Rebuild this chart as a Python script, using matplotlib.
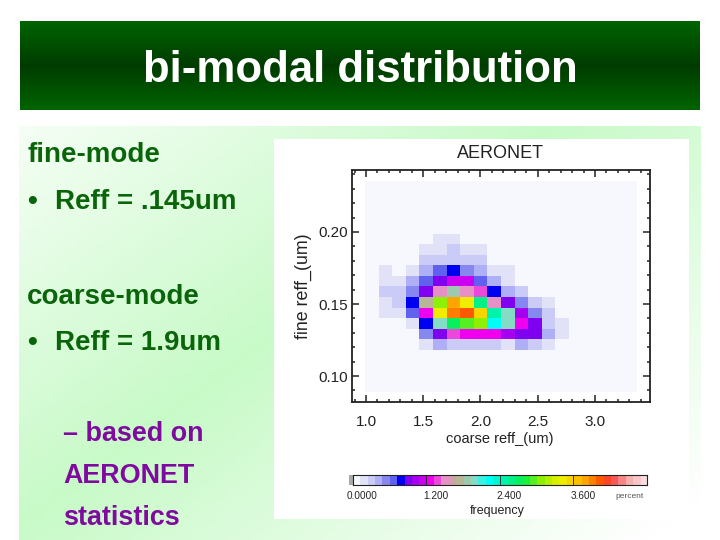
import numpy as np
import matplotlib
matplotlib.use("Agg")
import matplotlib.pyplot as plt
from matplotlib.colors import ListedColormap, LinearSegmentedColormap, BoundaryNorm
from matplotlib.patches import Rectangle
from matplotlib.transforms import ScaledTranslation

plt.rcParams['font.family'] = ['Liberation Sans', 'DejaVu Sans']

W = 720
H = 540

# frequency (percent), row -> (first col, values), top row first
n_cells = 20
rows = {
    5: (5, [.18, .18]),
    6: (4, [.18, .18, .3, .18, .18]),
    7: (4, [.3, .3, .3, .3, .3]),
    8: (1, [.18, 0, .18, .42, .66, .78, .54, .42, .18, .18]),
    9: (1, [.18, .18, .42, .66, .9, 1.14, 1.14, .66, .42, .18]),
    10: (1, [.3, .3, .54, .95, 1.5, 1.9, 1.5, 1.38, .78, .42, .3]),
    11: (1, [.18, .3, .78, 1.7, 3.1, 3.78, 3.38, 2.54, 1.54, .95, .54, .3, .18]),
    12: (1, [.18, .18, .66, 1.3, 3.42, 3.9, 4.02, 3.54, 2.42, 2.0, 1.06, .54, .3]),
    13: (3, [.18, .78, 2.0, 2.7, 2.94, 3.1, 2.2, 2.0, 1.26, .9, .3, .18]),
    14: (4, [.54, .9, 1.38, 1.26, 1.26, 1.26, 1.02, .95, .9, .42, .18]),
    15: (4, [.18, .42, .3, .3, .3, .3, .18, .42, .3, .18]),
}
x_edges = (0.99, 3.36)
y_edges = (0.0887, 0.235)

x_ticks = [1.0, 1.5, 2.0, 2.5, 3.0]
y_ticks = [0.10, 0.15, 0.20]
cbar_ticks = [0.0, 1.2, 2.4, 3.6]
cbar_labels = ["0.0000", "1.200", "2.400", "3.600"]

# colour stops of the bar, as (frequency, colour)
stops = [(0.0, "#f8f8ff"), (0.06, "#f8f8ff"), (0.18, "#e2e2f8"), (0.30, "#ccccf8"), (0.42, "#b0b0f8"),
         (0.54, "#8888f0"), (0.66, "#6060f0"), (0.78, "#0000f0"), (0.9, "#8000f0"), (1.26, "#f000f0"),
         (1.5, "#e890c8"), (1.7, "#c0b090"), (2.0, "#80e0c8"), (2.2, "#00ffff"),
         (2.55, "#00f090"), (2.8, "#10f040"), (3.1, "#a0f000"), (3.4, "#f0f000"),
         (3.75, "#ffb000"), (4.05, "#ff5000"), (4.2, "#f84040"), (4.5, "#f8b0b0"),
         (4.8, "#f8e8f0")]


def ax_px(fig, left, top, right, bottom, **kw):
    return fig.add_axes([left / W, 1 - bottom / H, (right - left) / W, (bottom - top) / H], **kw)


fig = plt.figure(figsize=(W / 100, H / 100), dpi=100, facecolor="white")

# slide background, a diagonal green band on white
bg = ax_px(fig, 0, 0, W, H)
bg.set_axis_off()
xx, yy = np.meshgrid(np.linspace(19 / W, 701 / W, 200), np.linspace(126 / H, 1, 120))
shade = np.clip(1 - 1.1 * np.abs(xx + yy - 1), 0, 1)
bg_cmap = LinearSegmentedColormap.from_list("slide", ["#ffffff", "#c8fac8"])
bg.imshow(shade, extent=(19, 701, 540, 126), cmap=bg_cmap, vmin=0, vmax=1, aspect="auto", zorder=1)

bar = np.abs(np.linspace(-1, 1, 90))[:, None]
bar_cmap = LinearSegmentedColormap.from_list("title", ["#003c00", "#006400"])
bg.imshow(bar, extent=(20, 700, 110, 21), cmap=bar_cmap, aspect="auto", zorder=2)
bg.set_xlim(0, W)
bg.set_ylim(H, 0)
bg.add_patch(Rectangle((274, 139), 415, 380, fc="white", ec="none", zorder=2))
bg.add_patch(Rectangle((348.5, 475), 4, 10, fc="#aaaaaa", ec="none", zorder=3))

bg.text(360, 66, "bi-modal distribution", color="white", fontsize=31.5, fontweight="bold",
        ha="center", va="center_baseline", zorder=3)
green = "#0a640a"
purple = "#800aa0"
body = [(27, 152, "fine-mode", green, 20), (55, 199, "Reff = .145um", green, 20),
        (27, 294, "coarse-mode", green, 20), (55, 340, "Reff = 1.9um", green, 20),
        (63, 431, "– based on", purple, 19.4), (63, 473, "AERONET", purple, 19.4),
        (63, 515, "statistics", purple, 19.4)]
for x, y, s, c, size in body:
    bg.text(x, y, s, color=c, fontsize=size, fontweight="bold", ha="left", va="center_baseline", zorder=3)
for y in [199, 340]:
    bg.text(32, y, "•", color=green, fontsize=20, fontweight="bold", ha="center", va="center_baseline", zorder=3)

# heat map
grid = np.zeros((n_cells, n_cells))
for r, (c0, vals) in rows.items():
    grid[r, c0:c0 + len(vals)] = vals

cmap_stops = LinearSegmentedColormap.from_list(
    "aeronet", [(f / 4.8, c) for f, c in stops], N=960)
levels = np.linspace(0, 4.8, 41)
centers = levels[:-1] + 0.06
cmap = ListedColormap(cmap_stops(centers / 4.8))
norm = BoundaryNorm(levels, cmap.N)

ink = "#222222"
ax = ax_px(fig, 352, 170, 650, 402)
ax.set_facecolor("white")
ax.imshow(grid, extent=(x_edges[0], x_edges[1], y_edges[0], y_edges[1]), cmap=cmap, norm=norm,
          aspect="auto", interpolation="nearest")
ax.set_xlim(0.878, 3.48)
ax.set_ylim(0.082, 0.243)
ax.set_xticks(x_ticks)
ax.set_yticks(y_ticks)
ax.set_xticklabels(["%.1f" % v for v in x_ticks])
ax.set_yticklabels(["%.2f" % v for v in y_ticks])
ax.set_xticks(np.arange(0.9, 3.45, 0.1), minor=True)
ax.set_yticks(np.arange(0.09, 0.241, 0.01), minor=True)
ax.tick_params(which="major", direction="in", length=5, width=1.1, top=True, right=True,
               labelsize=11, colors=ink)
ax.tick_params(axis="x", which="major", pad=9)
ax.tick_params(axis="y", which="major", pad=3)
ax.tick_params(which="minor", direction="in", length=2.5, width=1.1, top=True, right=True, colors=ink)
for spine in ax.spines.values():
    spine.set_linewidth(1.3)
    spine.set_color(ink)
fig.text(500 / W, 1 - 439 / H, "coarse reff_(um)", fontsize=10.5, color=ink, ha="center", va="center")
fig.text(303 / W, 1 - 286 / H, "fine reff_(um)", fontsize=12.8, color=ink, ha="center", va="center",
         rotation=90)
fig.text(500 / W, 1 - 153 / H, "AERONET", fontsize=13, color=ink, ha="center", va="center")

# colour bar
cax = ax_px(fig, 352.7, 475, 646.7, 485)
cax.imshow(centers[None, :], extent=(0, 4.8, 0, 1), cmap=cmap, norm=norm, aspect="auto",
           interpolation="nearest")
cax.set_xlim(0, 4.8)
cax.set_yticks([])
cax.set_xticks(cbar_ticks)
cax.set_xticklabels(cbar_labels, ha="left")
cax.tick_params(axis="x", direction="in", length=7, width=0.6, labelsize=7.2, colors=ink, pad=4)
for i, label in enumerate(cax.get_xticklabels()):
    shift = -6 if i == 0 else -3
    label.set_transform(label.get_transform() + ScaledTranslation(shift / 100, 0, fig.dpi_scale_trans))
for spine in cax.spines.values():
    spine.set_linewidth(0.8)
    spine.set_color(ink)
fig.text(630 / W, 1 - 497 / H, "percent", fontsize=6, color="#555555", ha="center", va="center")
fig.text(497 / W, 1 - 511 / H, "frequency", fontsize=9, color=ink, ha="center", va="center")

fig.savefig("out.png", dpi=100)
